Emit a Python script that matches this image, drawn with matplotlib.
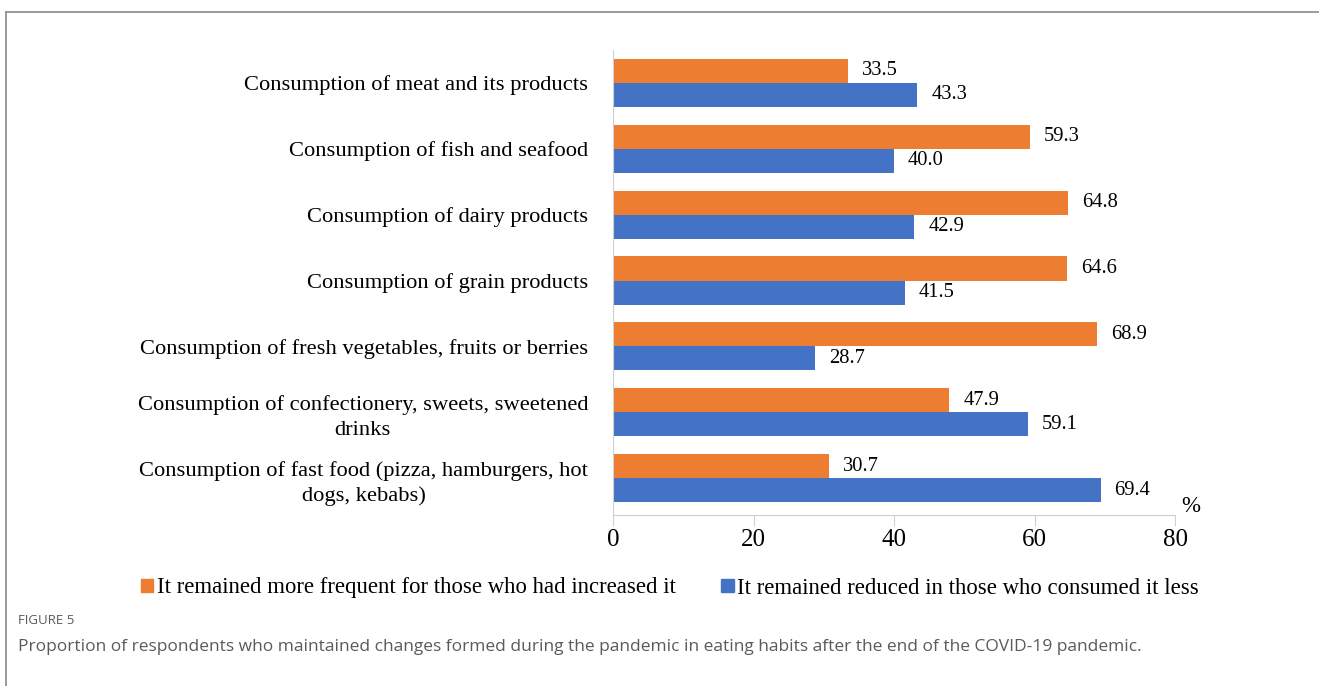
import matplotlib.pyplot as plt
from matplotlib.lines import Line2D
from matplotlib.patches import Patch
import numpy as np

plt.rcParams['font.family'] = ['Liberation Serif', 'DejaVu Serif']

categories = [
    "Consumption of meat and its products",
    "Consumption of fish and seafood",
    "Consumption of dairy products",
    "Consumption of grain products",
    "Consumption of fresh vegetables, fruits or berries",
    "Consumption of confectionery, sweets, sweetened\ndrinks",
    "Consumption of fast food (pizza, hamburgers, hot\ndogs, kebabs)",
]
more_frequent = [33.5, 59.3, 64.8, 64.6, 68.9, 47.9, 30.7]
reduced = [43.3, 40.0, 42.9, 41.5, 28.7, 59.1, 69.4]
series_names = [
    "It remained more frequent for those who had increased it",
    "It remained reduced in those who consumed it less",
]
xticks = [0, 20, 40, 60, 80]

orange = '#ED7D31'
blue = '#4472C4'

fig = plt.figure(figsize=(13.19, 6.86), dpi=100)
ax = fig.add_axes([613 / 1319, 1 - 515 / 686, 562 / 1319, 465 / 686])

y = np.arange(len(categories))
h = 0.365
ax.barh(y - h / 2, more_frequent, height=h, color=orange)
ax.barh(y + h / 2, reduced, height=h, color=blue)

for yi, v in zip(y - h / 2, more_frequent):
    ax.text(v + 2.0, yi, f"{v:.1f}", va='center', ha='left', fontsize=14.8)
for yi, v in zip(y + h / 2, reduced):
    ax.text(v + 2.0, yi, f"{v:.1f}", va='center', ha='left', fontsize=14.8)

ax.set_xlim(0, 80)
ax.set_ylim(6.56, -0.5)
ax.set_xticks(xticks)
ax.set_yticks(y)
ax.set_yticklabels(categories, fontsize=16.2, multialignment='center', linespacing=1.4)
ax.tick_params(axis='y', length=0, pad=18)
ax.tick_params(axis='x', length=8, color='#d0d0d0', labelsize=18, pad=2)
for s in ['top', 'right']:
    ax.spines[s].set_visible(False)
ax.spines['left'].set_color('#d0d0d0')
ax.spines['bottom'].set_color('#d0d0d0')
ax.text(1.012, 0.018, '%', transform=ax.transAxes, fontsize=16.5, ha='left', va='center')

handles = [Patch(color=orange), Patch(color=blue)]
fig.legend(handles, series_names, loc='center', bbox_to_anchor=(670 / 1319, 1 - 588 / 686),
           ncol=2, frameon=False, fontsize=16.4, handlelength=0.55, handleheight=0.55,
           handletextpad=0.15, columnspacing=2.0)

# outer frame, caption
fig.add_artist(Line2D([6 / 1319, 1], [1 - 12 / 686, 1 - 12 / 686], color='#8a8a8a', lw=1.2))
fig.add_artist(Line2D([6 / 1319, 6 / 1319], [0, 1 - 12 / 686], color='#8a8a8a', lw=1.2))
fig.text(18 / 1319, 1 - 621 / 686, 'FIGURE 5', fontsize=9.5, color='#5a5a5a',
         family=['Open Sans', 'DejaVu Sans'], va='center')
fig.text(18 / 1319, 1 - 647 / 686,
         'Proportion of respondents who maintained changes formed during the pandemic in eating habits after the end of the COVID-19 pandemic.',
         fontsize=12.5, color='#5a5a5a', family=['Open Sans', 'DejaVu Sans'], va='center')

fig.savefig('out.png', dpi=100)
